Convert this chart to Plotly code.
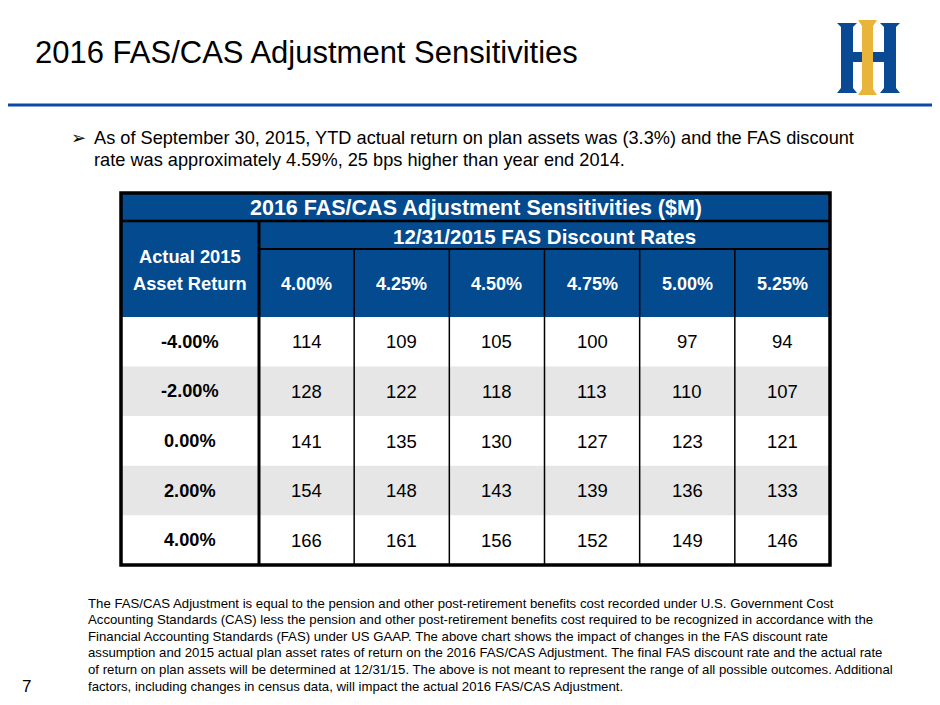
import plotly.graph_objects as go

# table data
title = "2016 FAS/CAS Adjustment Sensitivities ($M)"
col_group = "12/31/2015 FAS Discount Rates"
row_head = ["Actual 2015", "Asset Return"]
discount_rates = ["4.00%", "4.25%", "4.50%", "4.75%", "5.00%", "5.25%"]
asset_returns = ["-4.00%", "-2.00%", "0.00%", "2.00%", "4.00%"]
values = [
    [114, 109, 105, 100, 97, 94],
    [128, 122, 118, 113, 110, 107],
    [141, 135, 130, 127, 123, 121],
    [154, 148, 143, 139, 136, 133],
    [166, 161, 156, 152, 149, 146],
]

slide_title = "2016 FAS/CAS Adjustment Sensitivities"
bullet = ["As of September 30, 2015, YTD actual return on plan assets was (3.3%) and the FAS discount",
          "rate was approximately 4.59%, 25 bps higher than year end 2014."]
footnote = [
    "The FAS/CAS Adjustment is equal to the pension and other post-retirement benefits cost recorded under U.S. Government Cost",
    "Accounting Standards (CAS) less the pension and other post-retirement benefits cost required to be recognized in accordance with the",
    "Financial Accounting Standards (FAS) under US GAAP. The above chart shows the impact of changes in the FAS discount rate",
    "assumption and 2015 actual plan asset rates of return on the 2016 FAS/CAS Adjustment. The final FAS discount rate and the actual rate",
    "of return on plan assets will be determined at 12/31/15. The above is not meant to represent the range of all possible outcomes. Additional",
    "factors, including changes in census data, will impact the actual 2016 FAS/CAS Adjustment.",
]
page_no = "7"

BLUE = "#034a8f"
GRAY = "#e6e6e6"
SANS = "Liberation Sans, Arial"

# table geometry (pixels of the page; the page body has an 8px margin)
x0, x1 = 121, 830
first_w = 138
col_w = (x1 - x0 - first_w) / len(discount_rates)
y_t, y_g, y_h, y_d = 193, 221, 249, 317
row_h = (565 - y_d) / len(asset_returns)
y_b = y_d + row_h * len(asset_returns)
xc = [x0 + first_w + i * col_w for i in range(len(discount_rates) + 1)]

fig = go.Figure()
shapes = []
ann = []

def rect(xa, ya, xb, yb, fill, lw=0, lc="black"):
    shapes.append(dict(type="rect", x0=xa, y0=ya, x1=xb, y1=yb, fillcolor=fill,
                       line=dict(width=lw, color=lc), layer="below"))

def line(xa, ya, xb, yb, w):
    shapes.append(dict(type="line", x0=xa, y0=ya, x1=xb, y1=yb,
                       line=dict(width=w, color="black")))

def text(x, y, s, size, color="black", xanchor="center", align="center"):
    ann.append(dict(x=x, y=y, text=s, showarrow=False, xanchor=xanchor, yanchor="middle", align=align,
                    font=dict(size=size, color=color, family=SANS)))

# header background
rect(x0, y_t, x1, y_d, BLUE)
# data rows, alternating white / gray
for i, r in enumerate(asset_returns):
    ya = y_d + i * row_h
    rect(x0, ya, x1, ya + row_h, GRAY if i % 2 else "white")
    text((x0 + xc[0]) / 2, ya + row_h / 2, "<b>%s</b>" % r, 18.2)
    for j, v in enumerate(values[i]):
        text((xc[j] + xc[j + 1]) / 2, ya + row_h / 2, str(v), 18.5)

# header text
text((x0 + x1) / 2, (y_t + y_g) / 2 + 1, "<b>%s</b>" % title, 21.5, "white")
text((xc[0] + x1) / 2, (y_g + y_h) / 2 + 1, "<b>%s</b>" % col_group, 20.5, "white")
for k, s in enumerate(row_head):
    text((x0 + xc[0]) / 2, 256 + 27 * k, "<b>%s</b>" % s, 18.3, "white")
for j, d in enumerate(discount_rates):
    text((xc[j] + xc[j + 1]) / 2, (y_h + y_d) / 2 + 1, "<b>%s</b>" % d, 18, "white")

# grid lines
line(x0, y_g, x1, y_g, 2.5)
line(xc[0], y_h, x1, y_h, 2)
line(xc[0], y_g, xc[0], y_b, 3)
for xx in xc[1:-1]:
    line(xx, y_h, xx, y_b, 1.5)
shapes.append(dict(type="rect", x0=x0, y0=y_t, x1=x1, y1=y_b, line=dict(width=3.5, color="black")))

# slide furniture
shapes.append(dict(type="line", x0=0, y0=105, x1=940, y1=105, line=dict(width=3, color="#0b49a8")))
text(33, 52, slide_title, 31, xanchor="left")
text(69, 138, "\u27a2", 18, xanchor="left")
for k, s in enumerate(bullet):
    text(92, 138 + 22 * k, s, 18.2, xanchor="left", align="left")
for k, s in enumerate(footnote):
    text(86, 603 + 16.6 * k, s, 13.2, xanchor="left", align="left")
text(20, 686, page_no, 17, xanchor="left")

# logo
LB, LG = "#0a4a94", "#e8b53a"
for lx in (837, 880):
    shapes.append(dict(type="path", path="M %d 23 L %d 23 L %d 27 L %d 88 L %d 93 L %d 93 L %d 88 L %d 27 Z" % (
        lx, lx + 20, lx + 16, lx + 16, lx + 20, lx, lx + 4, lx + 4), fillcolor=LB, line=dict(width=0)))
rect(853, 52, 884, 62, LB)
shapes.append(dict(type="path", path="M 858 20 L 877 20 L 873 26 L 873 89 L 877 95 L 858 95 L 862 89 L 862 26 Z",
                   fillcolor=LG, line=dict(width=0)))

fig.update_layout(
    width=932, height=697, margin=dict(l=0, r=0, t=0, b=0),
    paper_bgcolor="white", plot_bgcolor="white",
    xaxis=dict(range=[8, 940], visible=False, fixedrange=True),
    yaxis=dict(range=[705, 8], visible=False, fixedrange=True),
    shapes=shapes, annotations=ann, showlegend=False,
)
fig.write_html("out.html")
